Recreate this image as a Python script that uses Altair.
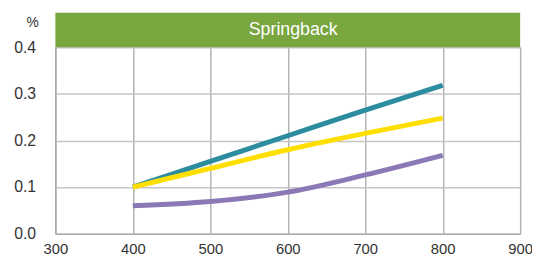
import altair as alt
import pandas as pd

temps = [400, 500, 600, 700, 800]
series_names = ["a_teal", "b_yellow", "c_purple"]
teal_vals = [0.10, 0.155, 0.21, 0.265, 0.318]
yellow_vals = [0.10, 0.14, 0.18, 0.215, 0.248]
purple_vals = [0.06, 0.069, 0.089, 0.126, 0.168]
colors = ["#2b8d9e", "#ffdf00", "#8a79b6"]
x_ticks = [300, 400, 500, 600, 700, 800, 900]
y_ticks = [0.0, 0.1, 0.2, 0.3, 0.4]
title_text = "Springback"
unit_text = "%"

rows = []
for name, vals in zip(series_names, [teal_vals, yellow_vals, purple_vals]):
    for t, v in zip(temps, vals):
        rows.append({"t": t, "v": v, "s": name})
df = pd.DataFrame(rows)

W, H = 471, 189
font = "Liberation Sans"

lines = alt.Chart(df).mark_line(strokeWidth=5, interpolate="monotone", strokeCap="butt").encode(
    x=alt.X("t:Q", scale=alt.Scale(domain=[300, 900], nice=False), title=None,
            axis=alt.Axis(values=x_ticks, labelPadding=8, ticks=False, labelFontSize=15,
                          labelFlush=False, labelColor="#333333", labelFont=font,
                          gridColor="#b4b4b8", gridWidth=1.5, domainColor="#a0a0a0")),
    y=alt.Y("v:Q", scale=alt.Scale(domain=[0, 0.4], nice=False), title=None,
            axis=alt.Axis(values=y_ticks, format=".1f", labelPadding=20, ticks=False,
                          labelFontSize=16, labelFlush=False, labelColor="#333333", labelFont=font,
                          gridColor="#c6c6ca", gridWidth=1.5, domainColor="#a0a0a0")),
    color=alt.Color("s:N", scale=alt.Scale(domain=series_names, range=colors), legend=None),
)

one = pd.DataFrame({"a": [0]})
bar = alt.Chart(one).mark_rect(color="#7aa640").encode(
    x=alt.value(0), x2=alt.value(W), y=alt.value(-35), y2=alt.value(0))
title = alt.Chart(one).mark_text(text=title_text, color="white", fontSize=18, font=font).encode(
    x=alt.value(241), y=alt.value(-17))
unit = alt.Chart(one).mark_text(text=unit_text, color="#333333", fontSize=14, font=font).encode(
    x=alt.value(-23), y=alt.value(-24))

chart = alt.layer(lines, bar, title, unit).properties(
    width=W, height=H,
    autosize=alt.AutoSizeParams(type="none"),
    padding={"left": 48, "top": 38, "right": 12, "bottom": 26},
).configure_view(stroke="#a0a0a0", strokeWidth=1).configure(background="white")

chart.save("out.html", embed_options={"renderer": "svg", "actions": False})
